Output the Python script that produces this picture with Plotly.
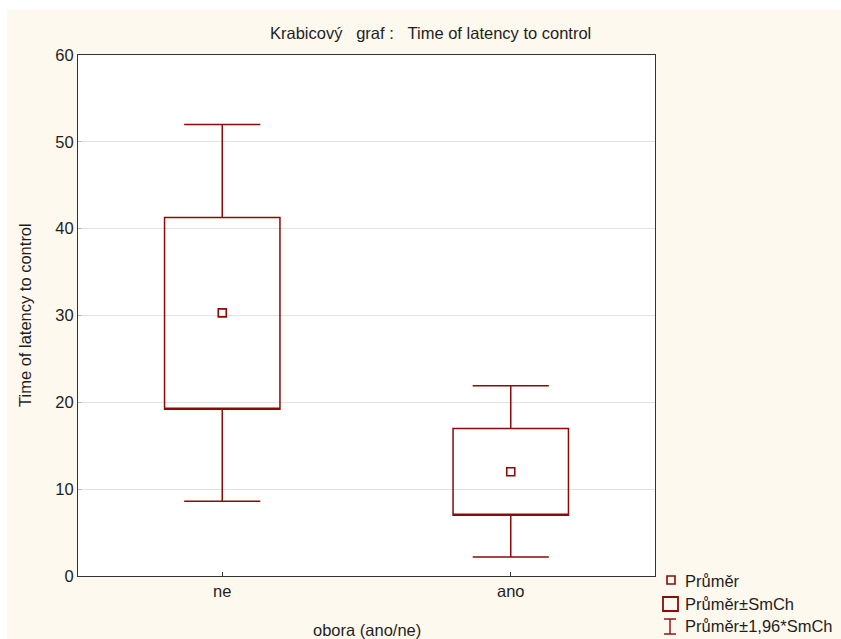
import plotly.graph_objects as go

categories = ["ne", "ano"]
means = [30.3, 12.0]
se_low = [19.2, 7.0]
se_high = [41.3, 17.0]
ci_low = [8.6, 2.2]
ci_high = [52.0, 21.9]
y_ticks = [0, 10, 20, 30, 40, 50, 60]

RED = "#8B0A0A"
CREAM = "#FEF9EE"
W, H = 841, 639
L, R, T, B = 78, 655, 55, 576

def px(x):
    return (x - L) / (R - L)

def py(y):
    return (B - y) / (B - T)

xpos = list(range(len(categories)))

fig = go.Figure()
for i, c in enumerate(categories):
    fig.add_trace(go.Box(
        x=[xpos[i]], q1=[se_low[i]], median=[se_low[i]], q3=[se_high[i]],
        lowerfence=[ci_low[i]], upperfence=[ci_high[i]],
        width=0.4, whiskerwidth=0.66, boxpoints=False,
        fillcolor="rgba(255,255,255,0)",
        line=dict(color=RED, width=1.5), showlegend=False, hoverinfo="skip",
    ))
fig.add_trace(go.Scatter(
    x=xpos, y=means, mode="markers",
    marker=dict(symbol="square-open", size=8, color=RED, line=dict(width=1.6, color=RED)),
    showlegend=False, hoverinfo="skip",
))

shapes = [
    # white strips at the top and left edge of the canvas
    dict(type="rect", xref="paper", yref="paper", x0=px(-5), x1=px(W + 5), y0=py(10), y1=py(-5),
         fillcolor="white", line=dict(width=0), layer="below"),
    dict(type="rect", xref="paper", yref="paper", x0=px(-5), x1=px(7), y0=py(H + 5), y1=py(-5),
         fillcolor="white", line=dict(width=0), layer="below"),
    # legend symbols
    dict(type="rect", xref="paper", yref="paper", x0=px(667), x1=px(675), y0=py(584), y1=py(576),
         line=dict(color=RED, width=1.6)),
    dict(type="rect", xref="paper", yref="paper", x0=px(663), x1=px(678), y0=py(611), y1=py(597),
         line=dict(color=RED, width=1.8)),
    dict(type="line", xref="paper", yref="paper", x0=px(670), x1=px(670), y0=py(634), y1=py(619),
         line=dict(color=RED, width=1.4)),
    dict(type="line", xref="paper", yref="paper", x0=px(664), x1=px(676), y0=py(619), y1=py(619),
         line=dict(color=RED, width=1.4)),
    dict(type="line", xref="paper", yref="paper", x0=px(664), x1=px(676), y0=py(634), y1=py(634),
         line=dict(color=RED, width=1.4)),
]

font = dict(family="Liberation Sans, Arial, sans-serif", size=16.5, color="#1E1E1E")
annotations = [
    dict(text="Krabicový\u00a0\u00a0 graf :\u00a0\u00a0\u00a0Time of latency to control", x=px(430), y=py(33),
         xref="paper", yref="paper", showarrow=False, xanchor="center", yanchor="middle", font=font),
    dict(text="obora (ano/ne)", x=px(367), y=py(630), xref="paper", yref="paper", showarrow=False,
         xanchor="center", yanchor="middle", font=font),
    dict(text="Time of latency to control", x=px(25), y=py(315), xref="paper", yref="paper",
         showarrow=False, textangle=-90, xanchor="center", yanchor="middle", font=font),
]
for label, yy in [("Průměr", 581), ("Průměr±SmCh", 604), ("Průměr±1,96*SmCh", 626)]:
    annotations.append(dict(text=label, x=px(683), y=py(yy), xref="paper", yref="paper",
                            showarrow=False, xanchor="left", yanchor="middle", font=font))

fig.update_layout(
    width=W, height=H,
    margin=dict(l=L, r=W - R, t=T, b=H - B, pad=0),
    paper_bgcolor=CREAM, plot_bgcolor="white",
    showlegend=False,
    shapes=shapes, annotations=annotations,
    font=font,
    xaxis=dict(range=[-0.5, 1.5], tickvals=xpos, ticktext=categories, showgrid=False,
               zeroline=False, showline=True, mirror=True, linecolor="#333333", linewidth=1.2,
               ticks="inside", ticklen=4, tickcolor="#333333", tickfont=font),
    yaxis=dict(range=[0, 60], tickvals=y_ticks, showgrid=True, gridcolor="#E2E2E2", gridwidth=1,
               zeroline=False, showline=True, mirror=True, linecolor="#333333", linewidth=1.2,
               ticks="inside", ticklen=4, tickcolor="#BBBBBB", tickfont=font),
)

fig.write_html("out.html", config={"displayModeBar": False},
               post_script="document.body.style.margin='0';document.body.style.padding='0';")
